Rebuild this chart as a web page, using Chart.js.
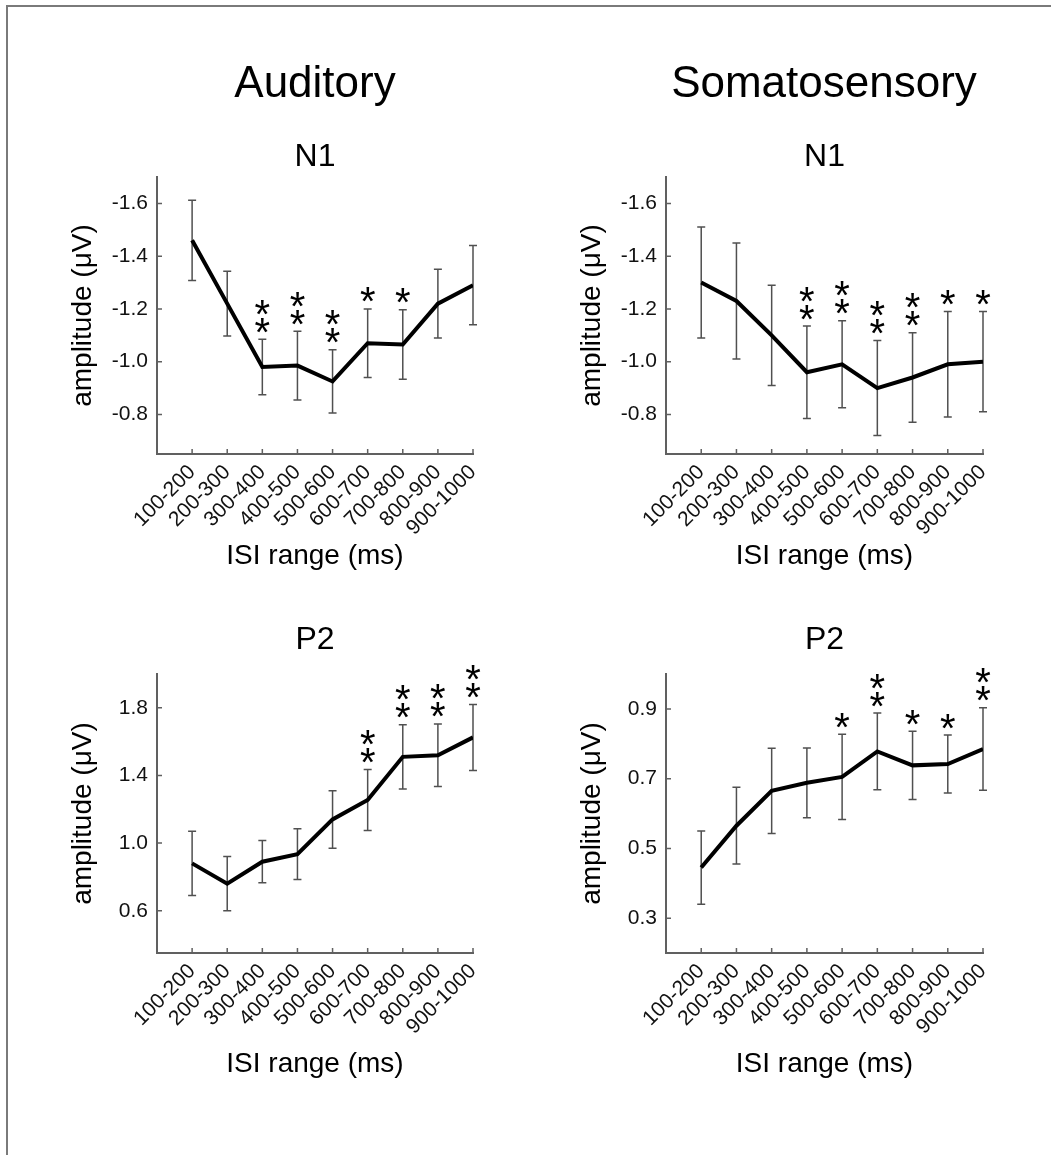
<!DOCTYPE html>
<html>
<head>
<meta charset="utf-8">
<script src="https://cdn.jsdelivr.net/npm/chart.js@4.4.1/dist/chart.umd.min.js"></script>
<style>
  body { margin: 0; background: #fff; width: 1051px; height: 1155px; position: relative; overflow: hidden;
         font-family: "Liberation Sans", Arial, sans-serif; }
  #frame { position: absolute; left: 6px; top: 5px; width: 1100px; height: 1200px;
           border-top: 2px solid #7a7a7a; border-left: 2px solid #7a7a7a; }
  .head { position: absolute; top: 60px; font-size: 44px; line-height: 44px; color: #000;
          transform: translateX(-50%); white-space: nowrap; z-index: 2; }
  canvas { position: absolute; }
</style>
</head>
<body>
<div id="frame"></div>
<div class="head" style="left:315px">Auditory</div>
<div class="head" style="left:824px">Somatosensory</div>
<canvas id="c1" width="525" height="510" style="left:0;top:100px"></canvas>
<canvas id="c2" width="526" height="510" style="left:525px;top:100px"></canvas>
<canvas id="c3" width="525" height="520" style="left:0;top:600px"></canvas>
<canvas id="c4" width="526" height="520" style="left:525px;top:600px"></canvas>
<script>
const isiRanges = ['100-200', '200-300', '300-400', '400-500', '500-600', '600-700', '700-800', '800-900', '900-1000'];

// N1 amplitudes (negative up), mean and standard error
const audN1Mean = [-1.46, -1.22, -0.98, -0.985, -0.925, -1.07, -1.065, -1.22, -1.29];
const audN1Sem  = [0.152, 0.123, 0.105, 0.13, 0.12, 0.13, 0.132, 0.13, 0.15];
const audN1Stars = [0, 0, 2, 2, 2, 1, 1, 0, 0];

const somN1Mean = [-1.30, -1.23, -1.10, -0.96, -0.99, -0.90, -0.94, -0.99, -1.00];
const somN1Sem  = [0.21, 0.22, 0.19, 0.175, 0.165, 0.18, 0.17, 0.20, 0.19];
const somN1Stars = [0, 0, 0, 2, 2, 2, 2, 1, 1];

// P2 amplitudes
const audP2Mean = [0.88, 0.76, 0.89, 0.935, 1.14, 1.255, 1.51, 1.52, 1.625];
const audP2Sem  = [0.19, 0.16, 0.125, 0.15, 0.17, 0.18, 0.19, 0.185, 0.195];
const audP2Stars = [0, 0, 0, 0, 0, 2, 2, 2, 2];

const somP2Mean = [0.445, 0.565, 0.665, 0.688, 0.705, 0.778, 0.738, 0.742, 0.785];
const somP2Sem  = [0.105, 0.11, 0.122, 0.10, 0.122, 0.11, 0.098, 0.083, 0.118];
const somP2Stars = [0, 0, 0, 0, 1, 2, 1, 1, 2];

const n1Ticks = [-1.6, -1.4, -1.2, -1.0, -0.8];
const audP2Ticks = [0.6, 1.0, 1.4, 1.8];
const somP2Ticks = [0.3, 0.5, 0.7, 0.9];

const FONT = '"Liberation Sans", Arial, sans-serif';
const AXIS_GREY = '#606060';
const BAR_GREY = '#505050';
Chart.defaults.font.family = FONT;
Chart.defaults.color = '#000';

// error bars, significance stars, inward tick marks and panel subtitle
const panelDecor = {
  id: 'panelDecor',
  beforeDatasetsDraw(chart, args, opts) {
    const { ctx, scales: { x, y } } = chart;
    ctx.save();
    ctx.strokeStyle = BAR_GREY;
    ctx.lineWidth = 1.5;
    opts.mean.forEach((m, i) => {
      const px = x.getPixelForValue(i + 1);
      const hi = y.getPixelForValue(m + opts.sem[i]);
      const lo = y.getPixelForValue(m - opts.sem[i]);
      ctx.beginPath();
      ctx.moveTo(px, hi); ctx.lineTo(px, lo);
      ctx.moveTo(px - 4, hi); ctx.lineTo(px + 4, hi);
      ctx.moveTo(px - 4, lo); ctx.lineTo(px + 4, lo);
      ctx.stroke();
    });
    ctx.restore();
  },
  afterDatasetsDraw(chart, args, opts) {
    const { ctx, chartArea, scales: { x, y } } = chart;
    ctx.save();
    // inward ticks
    ctx.strokeStyle = AXIS_GREY;
    ctx.lineWidth = 1.5;
    ctx.beginPath();
    x.ticks.forEach(t => {
      const px = x.getPixelForValue(t.value);
      ctx.moveTo(px, chartArea.bottom); ctx.lineTo(px, chartArea.bottom - 5);
    });
    y.ticks.forEach(t => {
      const py = y.getPixelForValue(t.value);
      ctx.moveTo(chartArea.left, py); ctx.lineTo(chartArea.left + 5, py);
    });
    ctx.stroke();

    // stars above the upper error bar end (top of screen)
    ctx.fillStyle = '#000';
    ctx.font = '40px ' + FONT;
    ctx.textAlign = 'center';
    ctx.textBaseline = 'alphabetic';
    const mt = ctx.measureText('*');
    const shift = (mt.actualBoundingBoxAscent - mt.actualBoundingBoxDescent) / 2;
    opts.stars.forEach((n, i) => {
      const m = opts.mean[i], s = opts.sem[i];
      const top = Math.min(y.getPixelForValue(m + s), y.getPixelForValue(m - s));
      const px = x.getPixelForValue(i + 1);
      for (let k = 0; k < n; k++) {
        ctx.fillText('*', px, top - 14 - 18 * k + shift);
      }
    });

    // subtitle
    ctx.font = '32px ' + FONT;
    ctx.fillText(opts.subtitle, (chartArea.left + chartArea.right) / 2, opts.subBase);
    ctx.restore();
  }
};

function makePanel(p) {
  const [cx, cy, cw, ch] = p.canvas;
  const [l, t, r, b] = p.area;
  const yW = l - cx;
  const xH = ch - (b - cy);
  const lh = 28 * 1.2;
  new Chart(document.getElementById(p.id), {
    type: 'line',
    data: {
      datasets: [{
        data: p.mean.map((v, i) => ({ x: i + 1, y: v })),
        borderColor: '#000',
        borderWidth: 4,
        pointRadius: 0,
        tension: 0,
        fill: false
      }]
    },
    options: {
      responsive: false,
      animation: false,
      layout: { padding: { left: 0, top: t - cy, right: cx + cw - r, bottom: 0 } },
      plugins: {
        legend: { display: false },
        tooltip: { enabled: false },
        panelDecor: { mean: p.mean, sem: p.sem, stars: p.stars, subtitle: p.subtitle, subBase: p.subBase - cy }
      },
      scales: {
        x: {
          type: 'linear', min: 0, max: 9,
          afterBuildTicks: s => { s.ticks = isiRanges.map((_, i) => ({ value: i + 1 })); },
          afterFit: s => { s.height = xH; },
          grid: { display: false, drawTicks: false },
          border: { display: true, color: AXIS_GREY, width: 2 },
          ticks: {
            autoSkip: false, maxRotation: 45, minRotation: 45, padding: 6,
            font: { size: 21 }, color: '#111',
            callback: v => isiRanges[v - 1]
          },
          title: {
            display: true, text: 'ISI range (ms)', font: { size: 28 }, color: '#000',
            padding: { top: 0, bottom: ch - lh / 2 - (p.xTitleMid - cy) }
          }
        },
        y: {
          type: 'linear', min: p.yMin, max: p.yMax, reverse: p.reverse,
          afterBuildTicks: s => { s.ticks = p.yTicks.map(v => ({ value: v })); },
          afterFit: s => { s.width = yW; },
          grid: { display: false, drawTicks: false },
          border: { display: true, color: AXIS_GREY, width: 2 },
          ticks: { padding: 9, font: { size: 21 }, color: '#111', callback: v => v.toFixed(1) },
          title: {
            display: true, text: 'amplitude (\u03bcV)', font: { size: 28 }, color: '#000',
            padding: { top: yW - 73.5 - lh / 2, bottom: 0 }
          }
        }
      }
    },
    plugins: [panelDecor]
  });
}

[
  { id: 'c1', canvas: [0, 100, 525, 510], area: [157, 177, 473, 454], subtitle: 'N1', subBase: 166, xTitleMid: 556,
    mean: audN1Mean, sem: audN1Sem, stars: audN1Stars, yMin: -1.7, yMax: -0.65, reverse: true, yTicks: n1Ticks },
  { id: 'c2', canvas: [525, 100, 526, 510], area: [666, 177, 983, 454], subtitle: 'N1', subBase: 166, xTitleMid: 556,
    mean: somN1Mean, sem: somN1Sem, stars: somN1Stars, yMin: -1.7, yMax: -0.65, reverse: true, yTicks: n1Ticks },
  { id: 'c3', canvas: [0, 600, 525, 520], area: [157, 674, 473, 953], subtitle: 'P2', subBase: 649, xTitleMid: 1064,
    mean: audP2Mean, sem: audP2Sem, stars: audP2Stars, yMin: 0.35, yMax: 2.0, reverse: false, yTicks: audP2Ticks },
  { id: 'c4', canvas: [525, 600, 526, 520], area: [666, 674, 983, 953], subtitle: 'P2', subBase: 649, xTitleMid: 1064,
    mean: somP2Mean, sem: somP2Sem, stars: somP2Stars, yMin: 0.2, yMax: 1.0, reverse: false, yTicks: somP2Ticks }
].forEach(makePanel);
</script>
</body>
</html>
